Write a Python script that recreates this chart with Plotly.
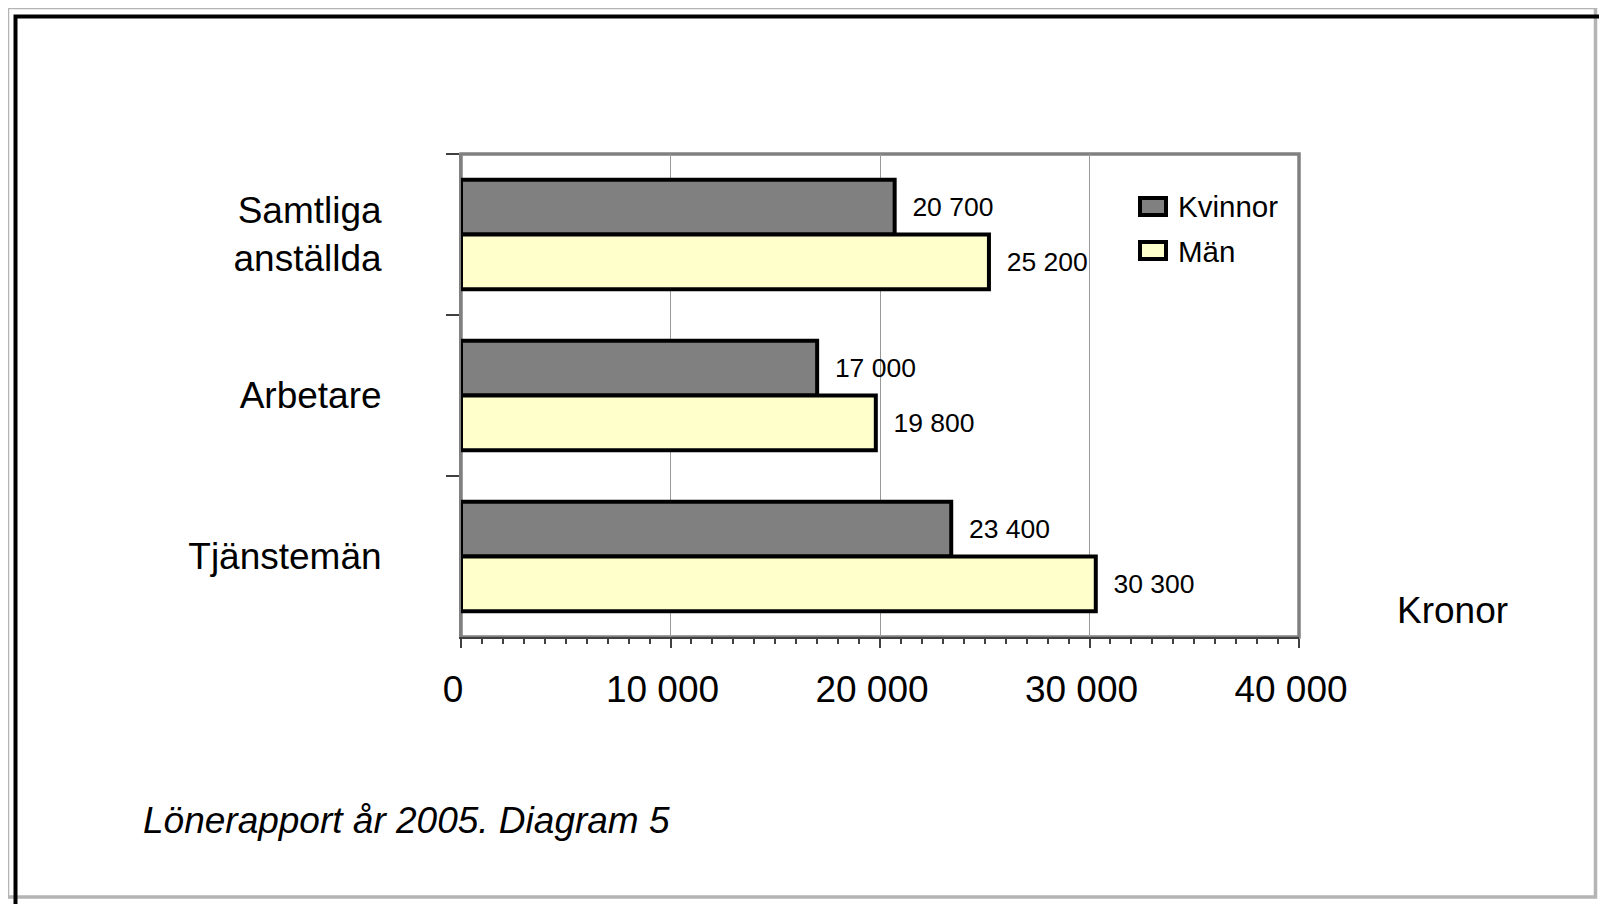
import plotly.graph_objects as go

# ---- data ----
categories = ["Samtliga<br>anställda", "Arbetare", "Tjänstemän"]
kvinnor = [20700, 17000, 23400]
man = [25200, 19800, 30300]
series_names = ["Kvinnor", "Män"]
x_tick_vals = [0, 10000, 20000, 30000, 40000]
x_tick_text = ["0", "10 000", "20 000", "30 000", "40 000"]
x_title = "Kronor"
caption = "Lönerapport år 2005. Diagram 5"

W, H = 1607, 904
OFF = 8  # page offset of the figure (body margin)
FONT = "Liberation Sans, Arial, sans-serif"


def px(x):
    return (x - OFF) / W


def py(y):
    return 1 - (y - OFF) / H


def fmt(v):
    return "\u00a0\u00a0" + f"{v:,}".replace(",", " ")


fig = go.Figure()
fig.add_trace(go.Bar(
    y=categories, x=kvinnor, orientation="h", name=series_names[0],
    marker=dict(color="#808080", line=dict(color="black", width=4)),
    text=[fmt(v) for v in kvinnor], textposition="outside",
    textfont=dict(family=FONT, size=26.5, color="black"),
    constraintext="none", cliponaxis=False,
))
fig.add_trace(go.Bar(
    y=categories, x=man, orientation="h", name=series_names[1],
    marker=dict(color="#FFFFCC", line=dict(color="black", width=4)),
    text=[fmt(v) for v in man], textposition="outside",
    textfont=dict(family=FONT, size=26.5, color="black"),
    constraintext="none", cliponaxis=False,
))

shapes = [
    # outer hatched-like gray frame
    dict(type="rect", xref="paper", yref="paper", x0=px(7.5), x1=px(1595.5),
         y0=py(897), y1=py(7.5), line=dict(color="#b4b4b4", width=3.5), layer="below"),
    # thick black frame
    dict(type="rect", xref="paper", yref="paper", x0=px(15.5), x1=px(1603),
         y0=py(930), y1=py(16.5), line=dict(color="black", width=4), layer="below"),
    # plot area border
    dict(type="rect", xref="x domain", yref="y domain", x0=0, x1=1, y0=0, y1=1,
         line=dict(color="#808080", width=3.5), layer="below"),
    # legend symbols
    dict(type="rect", xref="paper", yref="paper", x0=px(1140), x1=px(1166),
         y0=py(215), y1=py(198), fillcolor="#808080", line=dict(color="black", width=4)),
    dict(type="rect", xref="paper", yref="paper", x0=px(1140), x1=px(1166),
         y0=py(259), y1=py(242), fillcolor="#FFFFCC", line=dict(color="black", width=4)),
]

annotations = [
    dict(text=series_names[0], xref="paper", yref="paper", x=px(1176), y=py(206),
         xanchor="left", yanchor="middle", showarrow=False,
         font=dict(family=FONT, size=29.5, color="black")),
    dict(text=series_names[1], xref="paper", yref="paper", x=px(1176), y=py(251),
         xanchor="left", yanchor="middle", showarrow=False,
         font=dict(family=FONT, size=29.5, color="black")),
    dict(text=x_title, xref="paper", yref="paper", x=px(1452), y=py(610),
         xanchor="center", yanchor="middle", showarrow=False,
         font=dict(family=FONT, size=37, color="black")),
    dict(text="<i>" + caption + "</i>", xref="paper", yref="paper", x=px(141), y=py(820),
         xanchor="left", yanchor="middle", showarrow=False,
         font=dict(family=FONT, size=37, color="black")),
]

fig.update_layout(
    width=W, height=H,
    margin=dict(l=0, r=0, t=0, b=0, autoexpand=False),
    paper_bgcolor="white", plot_bgcolor="white",
    barmode="group", bargap=0.32, bargroupgap=0,
    showlegend=False,
    font=dict(family=FONT, color="black"),
    shapes=shapes, annotations=annotations,
    xaxis=dict(
        domain=[px(461), px(1299)], range=[0, 40000],
        tickmode="array", tickvals=x_tick_vals, ticktext=x_tick_text,
        ticks="outside", ticklen=9, tickwidth=2, tickcolor="#404040",
        showline=True, linecolor="#404040", linewidth=2,
        showgrid=True, gridcolor="#999999", gridwidth=1,
        zeroline=False,
        tickfont=dict(family=FONT, size=37, color="black"),
        ticklabelstandoff=10, ticklabelshift=-8,
        minor=dict(dtick=1000, ticks="outside", ticklen=5, tickwidth=1.5,
                   tickcolor="#404040", showgrid=False),
        automargin=False, anchor="y",
    ),
    yaxis=dict(
        domain=[py(637), py(154)], autorange="reversed",
        type="category",
        ticks="outside", tickson="boundaries", ticklen=13, tickwidth=2,
        tickcolor="#404040",
        showline=True, linecolor="#808080", linewidth=2,
        showgrid=False, zeroline=False,
        tickfont=dict(family=FONT, size=37, color="black"),
        ticklabelstandoff=70,
        automargin=False, anchor="x",
    ),
)

fig.write_html("out.html")
